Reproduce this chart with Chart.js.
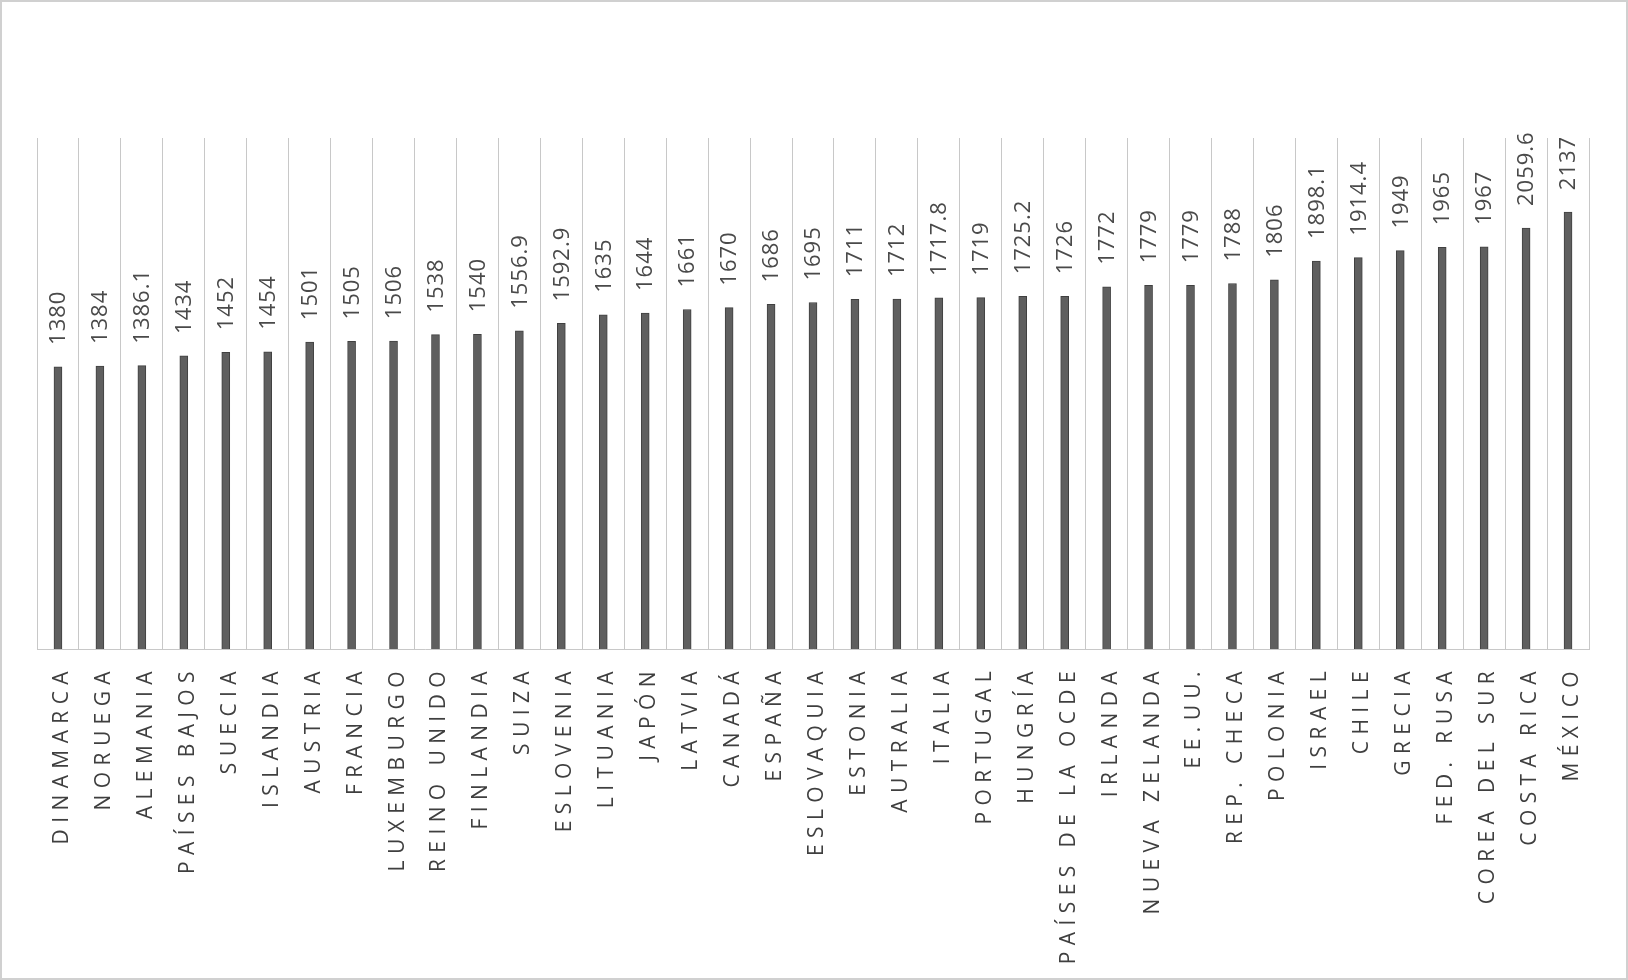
<!DOCTYPE html>
<html><head><meta charset="utf-8">
<script src="https://cdn.jsdelivr.net/npm/chart.js@4"></script>
<style>html,body{margin:0;padding:0;background:#fff;} canvas{display:block;}</style>
</head><body>
<canvas id="c" width="1628" height="980"></canvas>
<script>
const categories = ["DINAMARCA","NORUEGA","ALEMANIA","PAÍSES BAJOS","SUECIA","ISLANDIA","AUSTRIA","FRANCIA","LUXEMBURGO","REINO UNIDO","FINLANDIA","SUIZA","ESLOVENIA","LITUANIA","JAPÓN","LATVIA","CANADÁ","ESPAÑA","ESLOVAQUIA","ESTONIA","AUTRALIA","ITALIA","PORTUGAL","HUNGRÍA","PAÍSES DE LA OCDE","IRLANDA","NUEVA ZELANDA","EE.UU.","REP. CHECA","POLONIA","ISRAEL","CHILE","GRECIA","FED. RUSA","COREA DEL SUR","COSTA RICA","MÉXICO"];
const values = [1380,1384,1386.1,1434,1452,1454,1501,1505,1506,1538,1540,1556.9,1592.9,1635,1644,1661,1670,1686,1695,1711,1712,1717.8,1719,1725.2,1726,1772,1779,1779,1788,1806,1898.1,1914.4,1949,1965,1967,2059.6,2137];
const yMin = 0;
const yMax = 2500;

const spacingPlugin = {
  id: 'spacing',
  beforeLayout(chart){ chart.ctx.letterSpacing = '6.4px'; },
  beforeDraw(chart){ chart.ctx.letterSpacing = '6.4px'; }
};
const valueLabelPlugin = {
  id: 'valueLabels',
  afterDatasetsDraw(chart){
    const ctx = chart.ctx;
    const meta = chart.getDatasetMeta(0);
    meta.data.forEach((bar, i) => {
      ctx.save();
      ctx.letterSpacing = '1px';
      ctx.font = '22px "Open Sans"';
      ctx.fillStyle = '#4a4a4a';
      ctx.translate(bar.x + 1, bar.y - 22);
      ctx.rotate(-Math.PI / 2);
      ctx.textAlign = 'left';
      ctx.textBaseline = 'middle';
      ctx.fillText(String(values[i]), 0, 0);
      ctx.restore();
    });
  }
};
const framePlugin = {
  id: 'frame',
  afterDraw(chart){
    const ctx = chart.ctx;
    ctx.save();
    ctx.strokeStyle = '#d0d0d0';
    ctx.lineWidth = 2;
    ctx.strokeRect(1, 1, chart.width - 2, chart.height - 2);
    ctx.restore();
  }
};

new Chart(document.getElementById('c'), {
  type: 'bar',
  data: {
    labels: categories,
    datasets: [{
      data: values,
      backgroundColor: '#5f5f5f',
      borderColor: '#404040',
      borderWidth: 1,
      barThickness: 8
    }]
  },
  options: {
    responsive: false,
    animation: false,
    devicePixelRatio: 1,
    layout: { padding: { top: 138, left: 37, right: 39, bottom: 0 } },
    plugins: { legend: { display: false }, tooltip: { enabled: false } },
    scales: {
      x: {
        offset: true,
        grid: { color: '#c8c8c8', lineWidth: 1, drawTicks: false, offset: true },
        border: { color: '#c8c8c8', width: 1 },
        ticks: {
          autoSkip: false, minRotation: 90, maxRotation: 90,
          color: '#3f3f3f', font: { family: 'Open Sans', size: 21 },
          padding: 16, labelOffset: 4
        },
        afterFit(scale){ scale.height = 331; }
      },
      y: { display: false, min: yMin, max: yMax }
    }
  },
  plugins: [spacingPlugin, valueLabelPlugin, framePlugin]
});
</script>
</body></html>
